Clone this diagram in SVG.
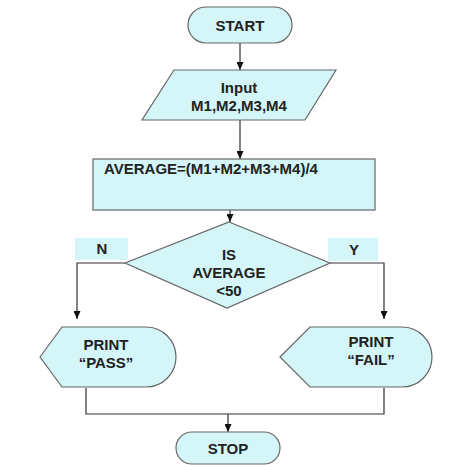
<svg xmlns="http://www.w3.org/2000/svg" width="452" height="465" viewBox="0 0 452 465">
<defs>
<marker id="ah" markerWidth="8" markerHeight="7" refX="8" refY="3.5" orient="auto" markerUnits="userSpaceOnUse">
<path d="M0,0 L8,3.5 L0,7 Z" fill="#111"/>
</marker>
<style>
.sh{fill:#d4f6f8;stroke:#666;stroke-width:1.2}
.lb{fill:#d4f6f8;stroke:none}
.t{font-family:"Liberation Sans",Arial,sans-serif;font-weight:bold;font-size:15px;fill:#222;text-anchor:middle}
.c{fill:none;stroke:#333;stroke-width:1.2}
</style>
</defs>
<rect width="452" height="465" fill="#fff"/>
<g id="connectors">
<line class="c" x1="240" y1="43" x2="240" y2="70" marker-end="url(#ah)"/>
<line class="c" x1="240" y1="120" x2="240" y2="159" marker-end="url(#ah)"/>
<line class="c" x1="230" y1="192" x2="230" y2="222" marker-end="url(#ah)"/>
<polyline class="c" points="125,263 77,263 77,319" marker-end="url(#ah)"/>
<polyline class="c" points="330,263 384,263 384,319" marker-end="url(#ah)"/>
<polyline class="c" points="86,388 86,414 384,414 384,388"/>
<line class="c" x1="228" y1="414" x2="228" y2="432" marker-end="url(#ah)"/>
</g>
<g id="start">
<rect class="sh" x="188" y="7" width="104" height="36" rx="18"/>
<text class="t" x="240" y="31">START</text>
</g>
<g id="input">
<polygon class="sh" points="174,70 336,70 305,120 142,120"/>
<text class="t" x="239" y="93">Input</text>
<text class="t" x="239" y="111">M1,M2,M3,M4</text>
</g>
<g id="average">
<rect class="sh" x="93" y="159" width="282" height="51"/>
<text class="t" x="104" y="174" style="text-anchor:start">AVERAGE=(M1+M2+M3+M4)/4</text>
</g>
<g id="decision">
<polygon class="sh" points="229,222 330,263 227,308 125,263"/>
<text class="t" x="229" y="260">IS</text>
<text class="t" x="229" y="278">AVERAGE</text>
<text class="t" x="229" y="296">&lt;50</text>
</g>
<g id="label-n">
<rect class="lb" x="75" y="238" width="53" height="22"/>
<text class="t" x="102" y="254">N</text>
</g>
<g id="label-y">
<rect class="lb" x="328" y="238" width="50" height="23"/>
<text class="t" x="354" y="255">Y</text>
</g>
<g id="pass">
<path class="sh" d="M40,357 L62,327 L146,327 A30,30 0 0 1 146,387 L62,387 Z"/>
<text class="t" x="106" y="350">PRINT</text>
<text class="t" x="106" y="368">“PASS”</text>
</g>
<g id="fail">
<path class="sh" d="M280,357 L310,327 L402,327 A30,30 0 0 1 402,387 L310,387 Z"/>
<text class="t" x="371" y="347">PRINT</text>
<text class="t" x="371" y="365">“FAIL”</text>
</g>
<g id="stop">
<rect class="sh" x="176" y="432" width="104" height="32" rx="16"/>
<text class="t" x="228" y="454">STOP</text>
</g>
</svg>
